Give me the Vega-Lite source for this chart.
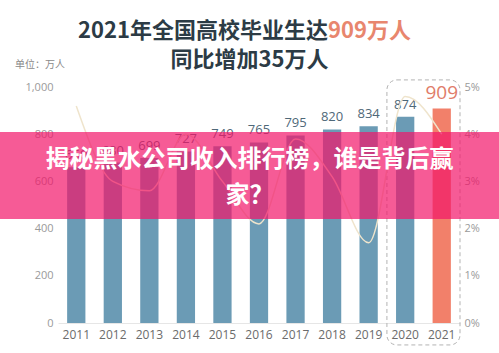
{
  "$schema": "https://vega.github.io/schema/vega-lite/v6.json",
  "width": 402,
  "height": 236,
  "autosize": "none",
  "padding": {"left": 58, "top": 87, "right": 39, "bottom": 30},
  "background": "white",
  "config": {"view": {"stroke": null}, "font": "Open Sans"},
  "layer": [
    {
      "data": {"values": [
        {"year": "2011", "graduates": 660},
        {"year": "2012", "graduates": 680},
        {"year": "2013", "graduates": 699},
        {"year": "2014", "graduates": 727},
        {"year": "2015", "graduates": 749},
        {"year": "2016", "graduates": 765},
        {"year": "2017", "graduates": 795},
        {"year": "2018", "graduates": 820},
        {"year": "2019", "graduates": 834},
        {"year": "2020", "graduates": 874},
        {"year": "2021", "graduates": 909}
      ]},
      "layer": [
        {
          "mark": {"type": "bar"},
          "encoding": {
            "x": {"field": "year", "type": "ordinal", "scale": {"paddingInner": 0.5, "paddingOuter": 0.25},
              "axis": {"title": null, "labelAngle": 0, "ticks": false, "labelPadding": 6, "labelColor": "#6b6b6b", "labelFontSize": 12, "labelFont": "Open Sans", "domainColor": "#e6e6e6", "grid": false}},
            "y": {"field": "graduates", "type": "quantitative", "scale": {"domain": [0, 1000], "nice": false},
              "axis": {"title": null, "values": [0, 200, 400, 600, 800, 1000], "format": ",d", "ticks": false, "domain": false, "grid": false, "labelPadding": 5, "labelColor": "#9a9a9a", "labelFontSize": 11, "labelFont": "Open Sans"}},
            "color": {"condition": {"test": "datum.year === '2021'", "value": "#f2806a"}, "value": "#6b9bb5"}
          }
        },
        {
          "mark": {"type": "text", "baseline": "bottom", "dy": -5, "font": "Open Sans"},
          "encoding": {
            "x": {"field": "year", "type": "ordinal"},
            "y": {"field": "graduates", "type": "quantitative"},
            "text": {"field": "graduates", "type": "quantitative"},
            "color": {"condition": {"test": "datum.year === '2021'", "value": "#e07c69"}, "value": "#4f6878"},
            "size": {"condition": {"test": "datum.year === '2021'", "value": 19}, "value": 13},
            "fontWeight": {"condition": {"test": "datum.year === '2021'", "value": "bold"}, "value": "normal"}
          }
        },
        {
          "data": {"values": [{}]},
          "mark": {"type": "rect", "fill": null, "fillOpacity": 0, "stroke": "#b3b3b3", "strokeWidth": 1, "strokeDash": [4, 3], "cornerRadius": 10},
          "encoding": {
            "x": {"datum": "2020", "type": "ordinal", "bandPosition": -0.5},
            "x2": {"datum": "2021", "bandPosition": 1.5},
            "y": {"datum": 1030, "type": "quantitative"},
            "y2": {"datum": -93}
          }
        }
      ]
    },
    {
      "data": {"values": [
        {"year": "2011", "pct": 0.046},
        {"year": "2012", "pct": 0.030},
        {"year": "2013", "pct": 0.028},
        {"year": "2014", "pct": 0.040},
        {"year": "2015", "pct": 0.030},
        {"year": "2016", "pct": 0.021},
        {"year": "2017", "pct": 0.039},
        {"year": "2018", "pct": 0.031},
        {"year": "2019", "pct": 0.017},
        {"year": "2020", "pct": 0.048},
        {"year": "2021", "pct": 0.040}
      ]},
      "mark": {"type": "line", "interpolate": "monotone", "color": "#efe4cc", "strokeWidth": 1.5},
      "encoding": {
        "x": {"field": "year", "type": "ordinal", "scale": {"paddingInner": 0.5, "paddingOuter": 0.25}, "axis": null},
        "y": {"field": "pct", "type": "quantitative", "scale": {"domain": [0, 0.05], "nice": false},
          "axis": {"orient": "right", "title": null, "values": [0, 0.01, 0.02, 0.03, 0.04, 0.05], "format": ".0%", "ticks": false, "domain": false, "grid": false, "labelPadding": 4, "labelColor": "#9a9a9a", "labelFontSize": 11, "labelFont": "Open Sans"}}
      }
    },
    {
      "layer": [
        {
          "data": {"values": [{}]},
          "mark": {"type": "rect", "fill": "#f2166a", "opacity": 0.7},
          "encoding": {
            "x": {"datum": -0.15, "type": "quantitative", "scale": {"domain": [0, 1], "nice": false}, "axis": null},
            "x2": {"datum": 1.1},
            "y": {"datum": 809, "type": "quantitative", "scale": {"domain": [0, 1000], "nice": false}, "axis": null},
            "y2": {"datum": 441}
          }
        },
        {
          "data": {"values": [{}]},
          "mark": {"type": "text", "text": ["揭秘黑水公司收入排行榜，谁是背后赢", "家？"], "font": "Noto Sans CJK SC", "fontWeight": "bold", "fontSize": 24, "lineHeight": 36, "color": "white", "align": "center", "baseline": "middle"},
          "encoding": {
            "x": {"datum": 0.4764, "type": "quantitative"},
            "y": {"datum": 692, "type": "quantitative"}
          }
        },
        {
          "data": {"values": [{}]},
          "mark": {"type": "text", "text": "2021年全国高校毕业生达", "font": "Noto Sans CJK SC", "fontWeight": "bold", "fontSize": 22, "color": "#2c3b45", "align": "right", "baseline": "middle"},
          "encoding": {
            "x": {"datum": 0.6716, "type": "quantitative"},
            "y": {"datum": 1237, "type": "quantitative"}
          }
        },
        {
          "data": {"values": [{}]},
          "mark": {"type": "text", "text": "909万人", "font": "Noto Sans CJK SC", "fontWeight": "bold", "fontSize": 22, "color": "#e8866e", "align": "left", "baseline": "middle"},
          "encoding": {
            "x": {"datum": 0.6716, "type": "quantitative"},
            "y": {"datum": 1237, "type": "quantitative"}
          }
        },
        {
          "data": {"values": [{}]},
          "mark": {"type": "text", "text": "同比增加35万人", "font": "Noto Sans CJK SC", "fontWeight": "bold", "fontSize": 22, "color": "#2c3b45", "align": "center", "baseline": "middle"},
          "encoding": {
            "x": {"datum": 0.4764, "type": "quantitative"},
            "y": {"datum": 1114, "type": "quantitative"}
          }
        },
        {
          "data": {"values": [{}]},
          "mark": {"type": "text", "text": "单位：万人", "font": "Noto Sans CJK SC", "fontSize": 10, "color": "#8a8a8a", "align": "left", "baseline": "middle"},
          "encoding": {
            "x": {"datum": -0.107, "type": "quantitative"},
            "y": {"datum": 1093, "type": "quantitative"}
          }
        }
      ]
    }
  ],
  "resolve": {"scale": {"x": "independent", "y": "independent"}}
}
